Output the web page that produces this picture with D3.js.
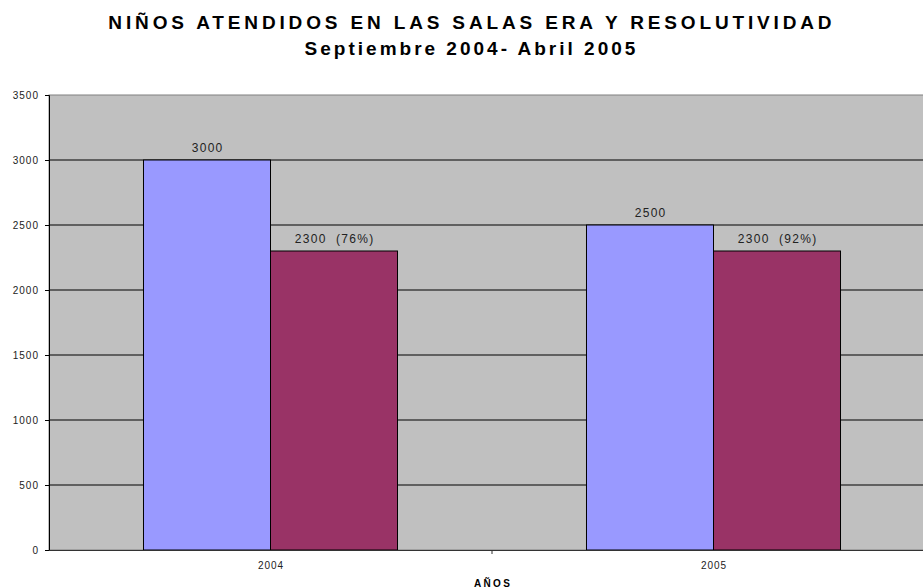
<!DOCTYPE html>
<html><head><meta charset="utf-8">
<script src="https://cdn.jsdelivr.net/npm/d3@7"></script>
<style>body{margin:0;background:#fff}svg{display:block}text{font-family:"Liberation Sans",Arial,sans-serif;white-space:pre}</style>
</head><body>
<script>
const categories = ["2004", "2005"];
const seriesNames = ["Atendidos", "Resolutividad"];
const atendidos = [3000, 2500];
const resueltos = [2300, 2300];
const barLabels = [["3000", "2300  (76%)"], ["2500", "2300  (92%)"]];
const yTicks = [0, 500, 1000, 1500, 2000, 2500, 3000, 3500];
const colors = ["#9999FF", "#993366"];

const W = 923, H = 588;
const m = {left: 49, top: 95, right: -12, bottom: 38};
const svg = d3.select("body").append("svg").attr("width", W).attr("height", H);

const x = d3.scaleBand().domain(categories).range([m.left, W - m.right]).paddingInner(0).paddingOuter(0);
const y = d3.scaleLinear().domain([0, 3500]).range([H - m.bottom, m.top]);
const bw = x.bandwidth();
const barW = bw * 0.2867;
const x1 = d3.scaleBand().domain([0, 1]).range([bw/2 - barW, bw/2 + barW]);

svg.append("rect").attr("x", m.left).attr("y", m.top).attr("width", x.range()[1] - m.left).attr("height", y(0) - m.top).attr("fill", "#C0C0C0").attr("stroke", "#808080");

svg.append("g").selectAll("line").data(yTicks.filter(d => d > 0 && d < 3500)).join("line")
  .attr("x1", m.left).attr("x2", x.range()[1]).attr("y1", d => y(d)).attr("y2", d => y(d)).attr("stroke", "#000").attr("stroke-width", 1);

const data = categories.map((c, i) => ({c, vals: [atendidos[i], resueltos[i]], labels: barLabels[i]}));
const g = svg.append("g").selectAll("g").data(data).join("g").attr("transform", d => `translate(${x(d.c)},0)`);
g.selectAll("rect").data(d => d.vals.map((v, j) => ({v, j}))).join("rect")
  .attr("x", d => x1(d.j)).attr("width", x1.bandwidth()).attr("y", d => y(d.v)).attr("height", d => y(0) - y(d.v))
  .attr("fill", d => colors[d.j]).attr("stroke", "#000").attr("stroke-width", 1);
g.selectAll("text").data(d => d.vals.map((v, j) => ({v, j, l: d.labels[j]}))).join("text")
  .attr("x", d => x1(d.j) + x1.bandwidth()/2 + 0.65).attr("y", d => y(d.v) - 8).attr("text-anchor", "middle")
  .attr("font-size", 12).attr("letter-spacing", 1.3).attr("fill", "#222").text(d => d.l);

const ya = svg.append("g").attr("transform", `translate(${m.left},0)`).call(d3.axisLeft(y).tickValues(yTicks).tickFormat(d3.format("d")).tickSize(4).tickPadding(6));
ya.select(".domain").attr("stroke", "#000");
ya.selectAll("text").attr("font-size", 10).attr("fill", "#222").attr("letter-spacing", 1).attr("font-family", "Liberation Sans, Arial, sans-serif");

const xa = svg.append("g").attr("transform", `translate(0,${y(0)})`).call(d3.axisBottom(x).tickSize(0).tickPadding(12));
xa.select(".domain").attr("stroke", "#333");
xa.selectAll("text").attr("font-size", 10).attr("fill", "#222").attr("letter-spacing", 1).attr("dx", 0.5).attr("font-family", "Liberation Sans, Arial, sans-serif");
svg.append("g").selectAll("line").data(categories.slice(1)).join("line")
  .attr("x1", d => x(d)).attr("x2", d => x(d)).attr("y1", y(0)).attr("y2", y(0) + 4).attr("stroke", "#333");

svg.append("text").attr("x", (m.left + x.range()[1]) / 2 + 1.1).attr("y", 586.5).attr("text-anchor", "middle")
  .attr("font-size", 10).attr("font-weight", "bold").attr("letter-spacing", 2.3).text("AÑOS");

svg.append("text").attr("x", 470 + 1.9).attr("y", 29).attr("text-anchor", "middle").attr("font-size", 19).attr("font-weight", "bold").attr("letter-spacing", 3.85).text("NIÑOS ATENDIDOS EN LAS SALAS ERA Y RESOLUTIVIDAD");
svg.append("text").attr("x", 470 + 1.5).attr("y", 55).attr("text-anchor", "middle").attr("font-size", 19).attr("font-weight", "bold").attr("letter-spacing", 3).text("Septiembre 2004- Abril 2005");
</script>
</body></html>
